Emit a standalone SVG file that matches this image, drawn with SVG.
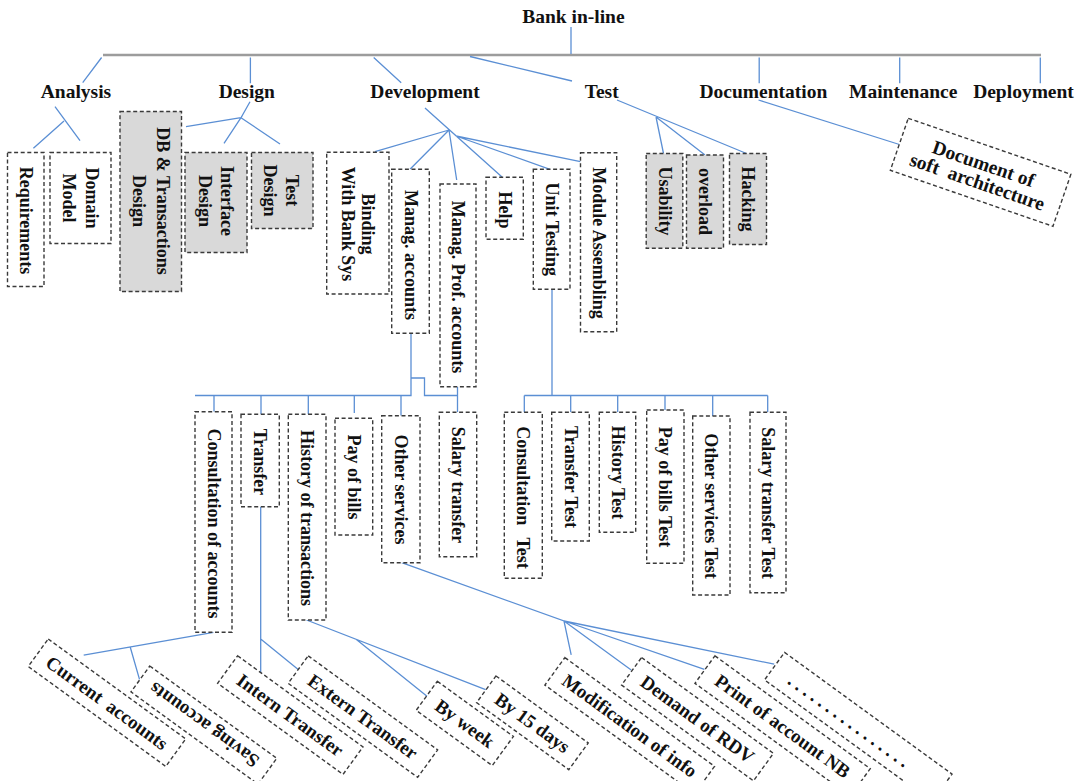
<svg xmlns="http://www.w3.org/2000/svg" width="1077" height="781" viewBox="0 0 1077 781">
<style>
text{font-family:"Liberation Serif","Times New Roman",serif;font-weight:bold;fill:#111;text-anchor:middle}
.t1{font-size:19.5px}
.v{font-size:18px}
.r{font-size:19px}
.box{fill:#fff;stroke:#3a3a3a;stroke-width:1.4;stroke-dasharray:4 2.6}
.g{fill:#d9d9d9}
.rb{fill:none;stroke:#3a3a3a;stroke-width:1.4;stroke-dasharray:4 2.6}
.c{fill:none;stroke:#5b8fd4;stroke-width:1.3}
.main{fill:none;stroke:#9c9c9c;stroke-width:2.5}
</style>
<rect width="1077" height="781" fill="#fff"/>
<g id="connectors">
<path class="main" d="M103,55 H1041"/>
<path class="c" d="M571,27 V54"/>
<path class="c" d="M101.6,57.5 L82.7,82.7 M250.4,57.5 V83.3 M373.7,57.5 L401.2,82.7 M470,56.5 L572,81 M759.2,57.5 V83.3 M899.7,57.5 V83.3 M1040.3,57.5 V83.3"/>
<path class="c" d="M55,106.7 L80,140.7 M64,121 L33.4,148.3"/>
<path class="c" d="M250,101.7 L241,117.7 M186,126.7 L241,117.7 L224,143.3 M241,117.7 L280,144"/>
<path class="c" d="M425,108 L502,177 M449,130 L375,151.7 M449,130 L410,169.3 M449,130 L456.7,180 M456,136 L550,169.3 M456,136 L580.5,161.7"/>
<path class="c" d="M617,100 L746.5,153.5 M656,117 L663.5,153.5 M656,117 L705,155"/>
<path class="c" d="M758.5,100 L901,145"/>
<path class="c" d="M411,333.3 V395.5 H195 M411,378 H424.5 V395.5 H457.5 M457.5,386.7 V412.3"/>
<path class="c" d="M214,395.5 V411.7 M261,395.5 V414.3 M308.3,395.5 V414.3 M354.3,395.5 V413 M401,395.5 V415.7"/>
<path class="c" d="M552,289.3 V395.5 M524.3,395.5 H767.7 M524.3,395.5 V412.3 M570.7,395.5 V412.3 M617.7,395.5 V412.3 M665,395.5 V410 M712.7,395.5 V416 M767.7,395.5 V412.3"/>
<path class="c" d="M213.5,632.3 L83.7,655.1 M130.2,647 L139.5,679.4"/>
<path class="c" d="M260.7,506.7 V672.7 M260.7,638.9 L297.9,669.3"/>
<path class="c" d="M306.5,620 L485.6,689.6 M356.4,639.5 L427,696.3"/>
<path class="c" d="M401.7,562.7 L564,621 L571.2,654.8 M564,621 L631.2,670 M564,621 L704.4,669.3 M564,621 L774.2,664.2"/>
</g>
<g id="root"><text class="t1" x="573.4" y="23">Bank in-line</text></g>
<g id="analysis"><text class="t1" x="76" y="98">Analysis</text></g>
<g id="design"><text class="t1" x="246.8" y="98">Design</text></g>
<g id="development"><text class="t1" x="425" y="98">Development</text></g>
<g id="test"><text class="t1" x="601.7" y="98">Test</text></g>
<g id="documentation"><text class="t1" x="763.4" y="98">Documentation</text></g>
<g id="maintenance"><text class="t1" x="903.2" y="98">Maintenance</text></g>
<g id="deployment"><text class="t1" x="1023.5" y="98">Deployment</text></g>

<g id="requirements"><rect class="box" x="7.5" y="152.5" width="36.5" height="134"/><text class="v" transform="translate(25.8,220.5) rotate(90)" y="6">Requirements</text></g>
<g id="domain-model"><rect class="box" x="50" y="152.5" width="61" height="91"/><text class="v" transform="translate(80.5,198) rotate(90)"><tspan x="0" y="-5.5">Domain</tspan><tspan x="0" y="17.5">Model</tspan></text></g>
<g id="db-design"><rect class="box g" x="120" y="111.5" width="61.5" height="180"/><text class="v" transform="translate(150.75,201) rotate(90)"><tspan x="0" y="-6">DB &amp; Transactions</tspan><tspan x="0" y="18">Design</tspan></text></g>
<g id="interface-design"><rect class="box g" x="185" y="152.5" width="62" height="100"/><text class="v" transform="translate(216,201) rotate(90)"><tspan x="0" y="-5.3">Interface</tspan><tspan x="0" y="17.3">Design</tspan></text></g>
<g id="test-design"><rect class="box g" x="251.5" y="152.5" width="61.5" height="76"/><text class="v" transform="translate(282.25,190.5) rotate(90)"><tspan x="0" y="-3.4">Test</tspan><tspan x="0" y="18.3">Design</tspan></text></g>

<g id="binding"><rect class="box" x="326.7" y="152.3" width="62.3" height="141.7"/><text class="v" transform="translate(357.85,224) rotate(90)"><tspan x="0" y="-4.2">Binding</tspan><tspan x="0" y="15.9">With Bank Sys</tspan></text></g>
<g id="manag-accounts"><rect class="box" x="391.7" y="169.3" width="37.6" height="164"/><text class="v" transform="translate(410.5,255) rotate(90)" y="6">Manag. accounts</text></g>
<g id="manag-prof-accounts"><rect class="box" x="440" y="184" width="36" height="202.7"/><text class="v" transform="translate(458,287) rotate(90)" y="6">Manag. Prof. accounts</text></g>
<g id="help"><rect class="box" x="486" y="177.3" width="37.3" height="62"/><text class="v" transform="translate(504.7,210) rotate(90)" y="6">Help</text></g>
<g id="unit-testing"><rect class="box" x="533.3" y="169.3" width="36.7" height="120"/><text class="v" transform="translate(551.7,229.3) rotate(90)" y="6">Unit Testing</text></g>
<g id="module-assembling"><rect class="box" x="580.5" y="152.7" width="36.2" height="179"/><text class="v" transform="translate(598.6,243) rotate(90)" y="6">Module Assembling</text></g>

<g id="usability"><rect class="box g" x="646.2" y="153.5" width="36.6" height="94.8"/><text class="v" transform="translate(664.5,201) rotate(90)" y="6">Usability</text></g>
<g id="overload"><rect class="box g" x="686.5" y="155" width="37" height="93.3"/><text class="v" transform="translate(705,201.6) rotate(90)" y="6">overload</text></g>
<g id="hacking"><rect class="box g" x="729.5" y="153.5" width="37" height="91"/><text class="v" transform="translate(748,199) rotate(90)" y="6">Hacking</text></g>

<g id="doc-soft-arch"><g transform="translate(980.6,172.3) rotate(19)"><rect class="box" x="-86" y="-27.5" width="172" height="55"/><text class="t1"><tspan x="0" y="-2.5">Document of</tspan><tspan x="0" y="16.5" word-spacing="5">soft architecture</tspan></text></g></g>

<g id="consultation-accounts"><rect class="box" x="195" y="411.7" width="37" height="220.6"/><text class="v" transform="translate(213.5,523.5) rotate(90)" y="6">Consultation of accounts</text></g>
<g id="transfer"><rect class="box" x="241" y="414.3" width="38.3" height="92.4"/><text class="v" transform="translate(260.2,462) rotate(90)" y="6">Transfer</text></g>
<g id="history-transactions"><rect class="box" x="288.3" y="414.3" width="37.7" height="205.7"/><text class="v" transform="translate(307.2,518) rotate(90)" y="6">History of transactions</text></g>
<g id="pay-bills"><rect class="box" x="335" y="418.3" width="37.7" height="116.7"/><text class="v" transform="translate(353.8,477) rotate(90)" y="6">Pay of bills</text></g>
<g id="other-services"><rect class="box" x="381.7" y="415.7" width="38.3" height="147"/><text class="v" transform="translate(400.8,489.5) rotate(90)" y="6">Other services</text></g>
<g id="salary-transfer"><rect class="box" x="439.3" y="412.3" width="37.4" height="144.4"/><text class="v" transform="translate(458,485) rotate(90)" y="6">Salary transfer</text></g>

<g id="consultation-test"><rect class="box" x="504.3" y="412.3" width="38" height="166"/><text class="v" transform="translate(523.3,497.5) rotate(90)" y="6" word-spacing="8">Consultation Test</text></g>
<g id="transfer-test"><rect class="box" x="551.7" y="412.3" width="37.6" height="128.7"/><text class="v" transform="translate(570.5,477) rotate(90)" y="6">Transfer Test</text></g>
<g id="history-test"><rect class="box" x="599.3" y="412.3" width="36.4" height="120"/><text class="v" transform="translate(617.5,472.5) rotate(90)" y="6">History Test</text></g>
<g id="pay-bills-test"><rect class="box" x="646.7" y="410" width="37.3" height="153.3"/><text class="v" transform="translate(665.3,487) rotate(90)" y="6">Pay of bills Test</text></g>
<g id="other-services-test"><rect class="box" x="692.7" y="416" width="37.3" height="179"/><text class="v" transform="translate(711.3,506) rotate(90)" y="6">Other services Test</text></g>
<g id="salary-transfer-test"><rect class="box" x="750" y="412.3" width="36" height="180.4"/><text class="v" transform="translate(768,503) rotate(90)" y="6">Salary transfer Test</text></g>

<g id="current-accounts" transform="translate(107,702.7) rotate(36)"><rect class="rb" x="-85" y="-17" width="170" height="34"/><text class="r" y="6.5" word-spacing="4">Current accounts</text></g>
<g id="saving-accounts" transform="translate(203.9,725.1) rotate(36)"><rect class="rb" x="-78.5" y="-16" width="157" height="32"/><text class="r" transform="rotate(180)" y="6.5">Saving accounts</text></g>
<g id="intern-transfer" transform="translate(290.3,715.1) rotate(36)"><rect class="rb" x="-77.5" y="-17" width="155" height="34"/><text class="r" y="6.5">Intern Transfer</text></g>
<g id="extern-transfer" transform="translate(362.9,716.6) rotate(36)"><rect class="rb" x="-80" y="-17" width="160" height="34"/><text class="r" y="6.5">Extern Transfer</text></g>
<g id="by-week" transform="translate(464.8,723.4) rotate(36)"><rect class="rb" x="-47" y="-18" width="94" height="36"/><text class="r" y="6.5">By week</text></g>
<g id="by-15-days" transform="translate(532.4,722.8) rotate(36)"><rect class="rb" x="-57" y="-16.5" width="114" height="33"/><text class="r" y="6.5">By 15 days</text></g>
<g id="modification-info" transform="translate(629.7,725.7) rotate(36)"><rect class="rb" x="-92.5" y="-17" width="185" height="34"/><text class="r" y="6.5">Modification of info</text></g>
<g id="demand-rdv" transform="translate(697.5,719.2) rotate(36)"><rect class="rb" x="-81.5" y="-17" width="163" height="34"/><text class="r" y="6.5">Demand of RDV</text></g>
<g id="print-account-nb" transform="translate(782.6,726) rotate(36)"><rect class="rb" x="-96" y="-17" width="192" height="34"/><text class="r" y="6.5">Print of account NB</text></g>
<g id="more" transform="translate(858.3,727) rotate(36)"><rect class="rb" x="-103.5" y="-17" width="207" height="34"/><text class="r" x="-84" y="6.5" style="text-anchor:start" letter-spacing="4.6">................</text></g>
</svg>
